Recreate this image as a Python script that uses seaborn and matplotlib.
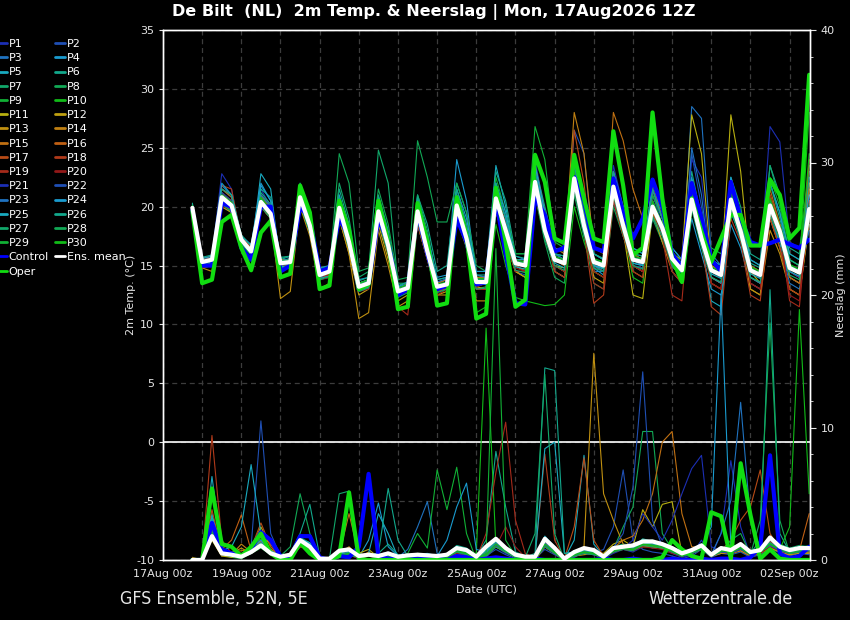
import numpy as np
import pandas as pd
import matplotlib
matplotlib.use("Agg")
import matplotlib.pyplot as plt
import matplotlib.dates as mdates
from matplotlib.lines import Line2D
from matplotlib.ticker import MultipleLocator, FixedLocator
import seaborn as sns

# ---------------- data ----------------
times = pd.date_range("2026-08-17 18:00", periods=64, freq="6h")

# ensemble mean, control and operational run: 2 m temperature (degC)
t_mean = [19.9, 15.3, 15.5, 20.8, 20.1, 17.2, 16.2, 20.4, 19.4, 15.2, 15.3, 20.8, 18.4, 14.2, 14.5, 19.9,
          17.0, 13.2, 13.5, 19.6, 16.7, 12.8, 13.1, 19.6, 16.2, 13.2, 13.4, 20.1, 17.3, 13.6, 13.6, 20.7,
          18.0, 15.2, 15.0, 22.1, 18.0, 15.5, 15.2, 22.4, 18.4, 15.3, 15.0, 21.7, 18.4, 15.5, 15.3, 20.0,
          18.2, 15.6, 14.6, 20.6, 17.3, 14.6, 14.2, 20.6, 17.9, 14.6, 14.2, 20.1, 17.9, 14.8, 14.4, 19.8]
t_control = [19.7, 15.0, 15.0, 20.3, 20.0, 16.5, 15.5, 20.0, 20.0, 14.5, 15.0, 20.0, 19.0, 14.5, 14.8, 19.0,
             17.5, 13.0, 13.5, 19.0, 17.0, 12.5, 13.0, 19.5, 16.0, 13.0, 13.3, 19.0, 17.0, 13.4, 13.6, 20.5,
             16.0, 11.8, 11.7, 20.7, 19.3, 16.2, 16.5, 22.5, 20.5, 16.5, 16.2, 22.4, 19.5, 17.3, 19.0, 22.3,
             20.0, 16.0, 14.8, 22.0, 19.0, 15.5, 14.5, 22.1, 19.0, 17.0, 16.7, 16.9, 17.2, 16.8, 16.5, 17.2]
t_oper = [19.6, 13.5, 13.8, 18.7, 19.3, 16.5, 14.6, 17.8, 18.8, 14.0, 14.3, 21.8, 19.5, 13.0, 13.3, 20.5,
          18.0, 13.0, 13.4, 20.5, 17.0, 11.3, 11.5, 20.3, 17.0, 11.6, 11.8, 20.8, 17.5, 10.5, 10.9, 21.6,
          17.0, 11.5, 12.1, 24.4, 22.1, 17.3, 16.9, 24.4, 20.7, 17.3, 17.0, 26.4, 21.8, 15.9, 16.5, 28.0,
          20.7, 15.6, 13.6, 20.7, 17.9, 15.3, 17.3, 19.3, 19.3, 16.7, 16.7, 22.3, 21.0, 17.3, 18.2, 31.2]

# ensemble members: 2 m temperature (degC)
t01 = [20.0, 15.6, 15.8, 22.8, 21.5, 17.0, 16.5, 21.5, 20.0, 15.5, 15.0, 21.5, 19.0, 14.0, 14.6, 21.0, 17.5, 13.0, 13.2, 20.5, 17.0, 12.5, 13.0, 20.0, 16.0, 13.5, 13.8, 21.0, 18.0, 14.0, 13.5, 22.0, 19.0, 15.5, 15.2, 24.0, 19.5, 16.0, 15.5, 23.0, 19.0, 15.0, 14.8, 23.5, 20.0, 16.0, 15.5, 21.0, 18.5, 15.0, 14.0, 21.5, 18.0, 14.0, 13.5, 22.0, 18.5, 15.5, 15.0, 26.8, 25.5, 17.0, 16.5, 21.0]
t02 = [19.8, 15.0, 15.2, 21.0, 20.5, 17.5, 16.8, 20.0, 19.0, 14.8, 15.0, 20.5, 18.0, 14.5, 14.8, 19.5, 17.2, 13.5, 13.8, 19.0, 16.5, 13.0, 13.5, 19.5, 16.5, 13.0, 13.2, 19.0, 17.0, 13.8, 14.0, 19.5, 17.5, 14.5, 14.2, 21.5, 18.5, 15.0, 14.8, 26.5, 24.5, 16.0, 15.5, 20.5, 18.0, 15.0, 14.8, 19.0, 17.5, 16.0, 15.0, 24.5, 20.0, 15.0, 14.5, 20.0, 17.0, 14.0, 13.5, 19.0, 17.0, 14.5, 14.0, 20.5]
t03 = [19.7, 15.5, 15.7, 21.5, 20.8, 16.8, 16.0, 21.0, 20.0, 15.0, 15.5, 21.0, 19.0, 14.0, 14.2, 20.5, 18.0, 13.0, 13.4, 20.0, 17.5, 12.5, 13.0, 18.5, 15.5, 12.8, 13.0, 19.5, 16.5, 13.2, 13.5, 21.0, 18.0, 15.0, 14.5, 22.5, 18.0, 15.0, 14.5, 21.5, 17.5, 14.5, 14.5, 20.5, 17.5, 15.0, 14.5, 19.5, 17.0, 15.5, 14.5, 28.5, 27.5, 16.0, 15.0, 21.0, 18.0, 14.5, 14.0, 19.0, 17.0, 13.5, 13.0, 18.5]
t04 = [20.2, 15.2, 15.4, 21.8, 21.0, 17.2, 16.4, 21.8, 20.5, 15.5, 15.8, 21.5, 19.5, 14.8, 15.0, 21.0, 18.0, 13.8, 14.0, 20.5, 17.0, 13.2, 13.6, 20.0, 17.0, 13.8, 14.0, 24.0, 20.5, 14.0, 13.8, 21.0, 18.0, 15.0, 14.5, 21.0, 17.5, 15.5, 15.0, 22.0, 18.0, 14.8, 14.2, 21.0, 18.0, 15.2, 15.0, 20.0, 18.0, 14.5, 13.5, 19.0, 16.0, 13.0, 12.5, 18.5, 16.5, 13.5, 13.0, 19.5, 17.0, 14.0, 13.5, 19.0]
t05 = [19.5, 15.0, 15.2, 20.5, 20.0, 17.0, 16.0, 22.8, 21.5, 15.0, 15.0, 20.0, 18.0, 13.8, 14.0, 20.0, 17.5, 12.8, 13.2, 19.5, 16.5, 12.8, 13.0, 20.5, 17.5, 13.0, 13.5, 21.0, 18.0, 14.5, 14.5, 23.5, 20.0, 15.5, 15.5, 23.0, 19.0, 14.5, 14.0, 22.0, 18.5, 15.0, 14.8, 22.5, 19.5, 15.5, 15.0, 21.5, 19.0, 15.0, 14.0, 20.0, 17.0, 12.0, 11.5, 19.5, 17.5, 14.0, 13.5, 22.0, 19.5, 15.0, 14.5, 20.0]
t06 = [19.6, 14.8, 15.0, 20.2, 19.8, 17.0, 16.3, 21.5, 20.8, 15.3, 15.0, 22.0, 19.5, 14.0, 14.5, 21.5, 18.5, 13.5, 13.8, 21.0, 18.0, 13.0, 13.2, 21.0, 18.5, 14.5, 15.0, 22.0, 19.5, 14.2, 14.0, 23.0, 20.5, 16.0, 16.0, 23.5, 20.0, 16.5, 16.2, 24.0, 20.5, 16.0, 15.5, 22.0, 19.0, 16.5, 16.0, 21.0, 19.0, 16.5, 15.5, 23.0, 19.0, 15.5, 15.0, 22.0, 19.0, 16.0, 15.5, 23.5, 21.0, 16.5, 16.0, 23.0]
t07 = [19.8, 15.0, 15.2, 20.0, 19.5, 16.8, 16.0, 20.8, 20.0, 15.5, 15.5, 21.5, 19.5, 14.5, 14.8, 22.0, 19.0, 14.0, 14.5, 24.8, 22.0, 13.5, 13.5, 21.0, 18.0, 13.5, 13.8, 20.0, 17.0, 13.0, 13.2, 21.5, 19.0, 15.0, 15.0, 22.0, 19.0, 16.0, 15.5, 23.0, 19.5, 15.5, 15.0, 22.5, 19.5, 16.0, 15.8, 20.5, 18.5, 16.0, 15.0, 21.0, 17.5, 14.5, 14.0, 22.5, 20.0, 15.0, 14.5, 23.5, 20.5, 15.5, 15.0, 22.0]
t08 = [20.0, 15.5, 15.5, 21.0, 20.2, 17.2, 16.5, 20.8, 19.8, 15.6, 15.8, 21.0, 19.0, 14.2, 14.5, 24.5, 22.0, 14.5, 14.8, 21.5, 18.5, 13.8, 14.0, 25.6, 22.5, 18.7, 18.7, 22.0, 19.5, 15.0, 14.5, 20.5, 17.5, 14.5, 14.0, 21.0, 17.0, 14.0, 13.5, 21.0, 17.5, 13.5, 13.0, 20.0, 17.5, 15.0, 14.5, 19.0, 17.0, 15.0, 14.0, 20.5, 18.0, 16.5, 16.0, 21.0, 18.5, 14.5, 14.0, 20.0, 18.5, 15.0, 14.5, 22.0]
t09 = [19.7, 14.8, 15.0, 20.5, 19.8, 17.0, 16.2, 20.5, 19.5, 15.0, 15.0, 20.5, 18.5, 14.0, 14.2, 20.0, 17.5, 13.0, 13.5, 20.5, 17.5, 12.5, 13.0, 20.0, 17.0, 13.0, 13.2, 21.0, 18.5, 14.0, 14.0, 22.5, 19.5, 16.0, 16.0, 26.8, 24.0, 17.0, 16.5, 22.0, 18.5, 16.0, 15.5, 21.5, 19.0, 16.0, 15.5, 21.0, 19.0, 16.0, 15.0, 22.0, 18.5, 15.0, 14.5, 21.5, 18.5, 15.5, 15.0, 22.5, 20.0, 16.0, 15.5, 23.5]
t10 = [19.5, 15.0, 15.2, 20.5, 19.5, 16.8, 16.0, 20.0, 19.0, 15.0, 15.0, 20.0, 18.0, 14.0, 14.5, 20.5, 18.0, 13.5, 13.5, 20.0, 17.0, 12.8, 13.0, 19.5, 16.5, 13.2, 13.5, 20.0, 17.5, 11.0, 11.5, 18.5, 15.0, 12.3, 12.0, 11.8, 11.6, 11.7, 12.5, 20.0, 17.0, 14.5, 14.0, 21.0, 18.0, 14.0, 13.5, 20.5, 18.0, 15.0, 14.0, 21.0, 18.0, 14.5, 14.0, 21.5, 18.0, 14.0, 13.5, 21.0, 18.5, 15.5, 15.0, 28.0]
t11 = [19.8, 15.3, 15.5, 21.0, 20.5, 17.0, 16.2, 20.0, 19.2, 15.0, 15.0, 20.5, 18.5, 14.2, 14.5, 19.5, 16.5, 13.0, 13.5, 19.0, 16.5, 12.8, 13.0, 19.0, 16.0, 13.0, 13.0, 19.5, 17.0, 13.5, 13.5, 20.5, 17.5, 15.0, 14.5, 22.0, 18.0, 15.0, 14.8, 23.0, 19.0, 15.0, 14.5, 21.0, 18.0, 12.5, 12.2, 19.5, 18.0, 16.0, 15.5, 27.8, 24.5, 15.0, 14.5, 27.8, 23.0, 14.5, 13.5, 19.0, 16.5, 13.0, 12.5, 18.5]
t12 = [20.0, 15.6, 15.8, 21.2, 20.5, 17.4, 16.5, 20.5, 19.5, 15.2, 15.5, 20.8, 18.5, 14.5, 14.8, 19.0, 16.0, 12.5, 13.0, 18.5, 15.5, 12.0, 12.5, 19.0, 16.0, 12.5, 12.8, 19.5, 17.0, 13.2, 13.0, 20.0, 17.0, 14.5, 14.0, 21.0, 17.5, 15.0, 14.5, 22.5, 19.0, 14.0, 13.5, 21.0, 18.0, 14.5, 14.0, 19.5, 17.0, 14.5, 13.5, 21.0, 18.0, 13.5, 13.0, 21.0, 18.0, 13.0, 12.5, 20.5, 18.5, 14.0, 13.5, 21.5]
t13 = [19.6, 14.8, 14.5, 20.0, 19.5, 16.5, 15.5, 20.0, 19.0, 12.2, 12.8, 20.0, 17.5, 13.0, 13.5, 19.0, 16.0, 10.5, 11.0, 18.0, 15.0, 11.5, 12.0, 18.5, 15.5, 12.5, 12.5, 19.0, 16.5, 12.0, 12.0, 19.5, 17.0, 14.5, 14.0, 21.5, 18.0, 14.5, 14.0, 22.0, 18.5, 14.5, 14.0, 21.5, 18.5, 15.0, 14.5, 20.5, 18.0, 15.0, 14.0, 20.0, 17.0, 14.0, 13.5, 21.0, 18.0, 13.0, 12.5, 18.0, 16.0, 13.0, 12.5, 19.0]
t14 = [19.8, 15.0, 15.2, 20.5, 20.0, 17.0, 16.0, 20.5, 19.5, 15.0, 15.2, 21.0, 18.5, 14.0, 14.2, 19.5, 16.5, 13.0, 13.5, 19.0, 16.0, 13.0, 13.2, 19.5, 16.0, 13.0, 13.5, 20.0, 17.5, 13.5, 13.5, 20.5, 18.0, 15.0, 15.0, 23.5, 19.5, 16.5, 16.0, 28.0, 24.5, 16.5, 16.0, 22.0, 19.0, 15.5, 15.0, 21.5, 19.0, 15.0, 14.0, 20.0, 17.5, 14.0, 13.5, 20.5, 18.0, 14.5, 14.0, 20.0, 18.0, 14.5, 14.0, 20.5]
t15 = [19.9, 15.5, 15.5, 21.5, 20.8, 17.5, 16.6, 21.0, 20.0, 15.5, 15.5, 21.5, 19.5, 14.5, 14.5, 20.5, 17.5, 13.5, 13.8, 20.0, 17.0, 13.0, 13.5, 20.5, 17.0, 13.5, 13.8, 20.5, 18.0, 14.0, 14.0, 21.0, 18.5, 15.5, 15.5, 22.5, 19.0, 15.5, 15.0, 23.0, 19.5, 15.5, 15.0, 28.0, 25.6, 21.5, 19.0, 22.0, 19.5, 16.0, 15.0, 21.0, 18.0, 15.0, 14.5, 21.0, 18.5, 15.0, 14.5, 21.0, 18.5, 15.0, 14.5, 22.0]
t16 = [19.7, 15.2, 15.4, 20.8, 20.0, 17.2, 16.3, 20.5, 19.5, 15.3, 15.5, 21.0, 18.5, 14.0, 14.5, 20.0, 17.0, 13.2, 13.5, 19.5, 16.5, 12.5, 13.0, 19.5, 16.0, 13.0, 13.5, 20.5, 17.5, 13.5, 13.5, 21.5, 18.5, 15.0, 15.0, 23.0, 19.0, 15.5, 15.0, 24.0, 20.0, 15.5, 15.0, 23.0, 19.5, 16.0, 15.5, 22.0, 19.0, 15.0, 14.0, 21.5, 18.0, 14.5, 14.0, 22.0, 19.0, 14.0, 13.5, 21.5, 18.5, 14.0, 13.5, 24.0]
t17 = [19.9, 15.4, 15.6, 21.5, 21.0, 17.3, 16.4, 20.8, 19.8, 15.2, 15.3, 20.5, 18.0, 14.0, 14.3, 19.0, 16.5, 13.0, 13.3, 19.0, 16.0, 12.8, 13.0, 19.0, 16.0, 12.8, 13.0, 20.0, 17.0, 13.5, 13.5, 20.5, 17.5, 15.0, 14.5, 22.0, 18.0, 15.5, 15.0, 26.5, 22.0, 15.0, 14.5, 21.0, 18.0, 15.0, 14.5, 19.5, 17.5, 15.5, 14.5, 20.5, 17.0, 14.0, 13.5, 20.0, 17.5, 14.5, 14.0, 19.5, 17.5, 14.5, 14.0, 19.5]
t18 = [20.0, 15.5, 15.6, 21.8, 21.5, 17.3, 16.6, 20.0, 19.0, 15.0, 15.2, 20.5, 18.5, 14.2, 14.5, 20.0, 17.0, 13.2, 13.5, 19.5, 16.5, 12.5, 12.8, 19.5, 16.5, 13.0, 13.0, 19.5, 17.0, 13.0, 13.0, 20.0, 17.5, 14.5, 14.5, 21.5, 18.0, 15.0, 14.5, 21.5, 18.0, 11.8, 12.5, 20.5, 17.5, 15.0, 14.5, 20.0, 18.0, 15.0, 14.5, 20.0, 17.0, 11.5, 10.8, 19.0, 17.0, 12.5, 12.0, 19.0, 16.5, 13.0, 12.5, 19.0]
t19 = [19.8, 15.0, 15.0, 20.5, 20.0, 17.0, 16.0, 20.0, 19.0, 15.0, 15.0, 20.5, 18.0, 14.0, 14.2, 19.5, 16.5, 13.0, 13.0, 19.0, 16.0, 11.5, 10.8, 18.5, 15.5, 12.5, 13.0, 19.5, 17.0, 13.0, 13.0, 20.0, 17.0, 14.5, 14.5, 21.5, 18.0, 14.5, 14.0, 22.0, 18.5, 13.5, 13.0, 21.0, 18.0, 14.5, 14.0, 20.5, 17.5, 12.5, 12.0, 21.5, 17.5, 13.5, 13.0, 21.5, 18.0, 13.5, 13.0, 21.0, 18.0, 12.0, 11.5, 20.5]
t20 = [19.6, 14.8, 15.0, 20.0, 19.8, 16.8, 16.0, 20.2, 19.4, 14.8, 14.8, 20.5, 18.0, 13.8, 14.0, 19.8, 16.8, 12.8, 13.0, 19.5, 16.5, 12.5, 12.8, 19.0, 16.0, 13.0, 13.2, 19.8, 17.0, 13.2, 13.5, 20.0, 17.5, 14.8, 14.5, 21.0, 17.5, 15.0, 14.5, 22.0, 18.0, 14.5, 14.0, 21.0, 18.0, 15.0, 14.5, 20.0, 17.5, 14.5, 13.5, 20.0, 17.0, 13.5, 13.0, 20.5, 17.5, 13.5, 13.0, 20.0, 17.5, 12.5, 12.0, 20.5]
t21 = [20.0, 15.4, 15.6, 21.2, 20.5, 17.1, 16.2, 20.6, 19.6, 15.2, 15.4, 21.0, 18.8, 14.3, 14.6, 20.5, 17.5, 13.3, 13.6, 20.0, 17.0, 13.0, 13.3, 20.0, 16.5, 13.3, 13.5, 20.5, 17.5, 13.8, 13.8, 21.0, 18.5, 15.3, 15.0, 22.5, 18.5, 15.5, 15.2, 23.0, 19.0, 15.3, 15.0, 22.0, 18.5, 15.5, 15.0, 20.5, 18.0, 15.5, 14.5, 24.0, 22.5, 14.5, 14.0, 21.0, 18.0, 14.5, 14.0, 20.5, 18.0, 14.5, 14.0, 20.0]
t22 = [19.9, 15.3, 15.5, 20.8, 20.2, 17.2, 16.3, 20.5, 19.5, 15.3, 15.4, 20.8, 18.5, 14.2, 14.5, 20.0, 17.0, 13.2, 13.5, 19.6, 16.8, 12.8, 13.1, 19.5, 16.2, 13.2, 13.4, 20.0, 17.2, 13.6, 13.6, 20.5, 18.0, 15.2, 15.0, 22.0, 18.0, 15.5, 15.2, 22.5, 18.5, 15.3, 15.0, 21.8, 18.5, 15.5, 15.3, 20.0, 18.2, 15.6, 14.6, 20.5, 17.3, 14.6, 14.2, 20.5, 18.0, 14.6, 14.2, 20.0, 18.0, 14.8, 14.4, 19.8]
t23 = [19.7, 15.1, 15.3, 20.5, 19.8, 17.0, 16.0, 21.0, 20.0, 15.0, 15.2, 20.5, 18.0, 14.0, 14.4, 19.5, 16.5, 13.0, 13.3, 19.0, 16.2, 12.6, 13.0, 19.8, 16.8, 13.6, 13.9, 21.0, 18.0, 14.2, 14.0, 21.5, 19.0, 15.8, 15.5, 23.0, 19.5, 16.0, 15.5, 23.5, 20.0, 15.0, 14.5, 22.5, 19.5, 15.5, 15.0, 21.5, 19.0, 15.0, 14.0, 25.0, 21.0, 14.0, 13.5, 21.0, 18.5, 14.0, 13.5, 20.5, 18.0, 15.0, 14.5, 18.0]
t24 = [20.1, 15.6, 15.8, 22.0, 21.0, 17.5, 16.7, 22.0, 20.5, 15.4, 15.6, 21.2, 19.2, 14.5, 14.8, 20.2, 17.5, 13.5, 13.8, 20.2, 17.2, 13.2, 13.4, 20.5, 17.5, 14.0, 14.2, 21.5, 19.0, 14.5, 14.5, 22.0, 19.5, 15.5, 15.5, 23.5, 19.5, 16.0, 15.8, 24.5, 20.5, 16.0, 15.5, 23.0, 20.0, 16.5, 16.0, 22.0, 19.5, 16.5, 15.5, 22.5, 19.0, 15.5, 15.0, 22.5, 19.5, 15.5, 15.0, 22.0, 19.5, 16.0, 15.5, 21.0]
t25 = [19.5, 14.9, 15.1, 20.4, 19.9, 16.9, 15.9, 20.3, 19.3, 14.9, 15.0, 20.4, 18.2, 13.9, 14.1, 19.6, 16.8, 12.9, 13.2, 19.2, 16.4, 12.6, 12.9, 19.4, 16.1, 13.1, 13.3, 19.8, 17.0, 13.4, 13.4, 20.3, 17.8, 14.9, 14.7, 21.5, 17.8, 15.2, 14.8, 22.0, 18.2, 15.0, 14.7, 21.5, 18.2, 15.2, 15.0, 19.8, 17.8, 15.3, 14.3, 20.3, 17.0, 14.3, 13.9, 20.2, 17.6, 14.3, 13.9, 19.7, 17.6, 14.5, 14.1, 19.5]
t26 = [20.3, 15.7, 15.9, 21.5, 21.0, 17.6, 16.7, 21.2, 20.2, 15.7, 15.8, 21.5, 19.2, 14.7, 15.0, 20.8, 18.0, 13.7, 14.0, 20.8, 17.8, 13.3, 13.6, 20.8, 17.5, 13.8, 14.0, 21.5, 18.5, 14.2, 14.2, 22.0, 19.0, 15.8, 15.6, 23.0, 19.0, 16.0, 15.8, 23.5, 19.5, 16.0, 15.6, 23.0, 19.5, 16.0, 15.8, 21.5, 19.0, 16.2, 15.2, 22.0, 18.5, 15.2, 14.8, 22.0, 19.0, 15.2, 14.8, 22.0, 19.0, 15.5, 15.0, 22.5]
t27 = [19.6, 15.0, 15.2, 20.2, 19.6, 16.9, 15.9, 20.0, 19.0, 14.8, 14.9, 20.2, 17.8, 13.8, 14.1, 19.2, 16.4, 12.8, 13.1, 18.8, 16.0, 12.3, 12.7, 18.8, 15.6, 12.7, 13.0, 19.2, 16.6, 13.0, 13.1, 19.8, 17.2, 14.6, 14.4, 21.2, 17.2, 15.0, 14.6, 21.5, 17.8, 14.8, 14.5, 21.0, 17.8, 15.0, 14.7, 19.2, 17.5, 15.0, 14.0, 19.8, 16.5, 14.0, 13.6, 19.8, 17.2, 14.0, 13.6, 19.3, 17.2, 14.2, 13.8, 19.0]
t28 = [19.9, 15.3, 15.5, 21.0, 20.3, 17.3, 16.3, 20.7, 19.6, 15.4, 15.5, 21.0, 18.6, 14.4, 14.7, 20.2, 17.3, 13.4, 13.7, 19.9, 17.0, 13.0, 13.3, 19.9, 16.5, 13.4, 13.6, 20.4, 17.6, 13.8, 13.8, 21.0, 18.3, 15.4, 15.2, 22.4, 18.3, 15.7, 15.4, 22.8, 18.7, 15.5, 15.2, 22.0, 18.7, 15.7, 15.5, 20.3, 18.5, 15.8, 14.8, 21.0, 17.6, 14.8, 14.4, 21.0, 18.2, 14.8, 14.4, 20.5, 18.2, 15.0, 14.6, 20.2]
t29 = [19.8, 15.2, 15.4, 20.6, 19.9, 17.1, 16.1, 20.2, 19.2, 15.1, 15.2, 20.6, 18.2, 14.1, 14.4, 19.7, 16.8, 13.1, 13.4, 19.4, 16.5, 12.7, 13.0, 19.4, 16.0, 13.1, 13.3, 19.9, 17.1, 13.5, 13.5, 20.5, 17.8, 15.1, 14.9, 21.8, 17.8, 15.4, 15.1, 22.2, 18.2, 15.2, 14.9, 21.5, 18.2, 15.4, 15.2, 19.8, 18.0, 15.5, 14.5, 20.4, 17.1, 14.5, 14.1, 20.4, 17.7, 14.5, 14.1, 19.9, 17.7, 14.7, 14.3, 19.6]
t30 = [20.1, 15.4, 15.6, 21.0, 20.4, 17.3, 16.4, 20.8, 19.7, 15.3, 15.4, 21.2, 18.8, 14.5, 14.8, 20.3, 17.3, 13.5, 13.8, 20.0, 17.0, 13.1, 13.4, 20.0, 16.6, 13.4, 13.6, 20.5, 17.6, 13.9, 13.9, 21.2, 18.3, 15.5, 15.3, 22.6, 18.3, 15.8, 15.5, 23.0, 18.8, 15.6, 15.3, 22.3, 18.8, 15.8, 15.6, 20.5, 18.5, 15.9, 14.9, 21.2, 17.6, 14.9, 14.5, 21.2, 18.3, 14.9, 14.5, 20.7, 18.3, 15.1, 14.7, 24.5]

# 6-hourly precipitation (mm): ensemble mean, control, operational
r_mean = [0.0, 0.0, 1.8, 0.5, 0.4, 0.25, 0.6, 1.1, 0.5, 0.25, 0.4, 1.5, 1.0, 0.1, 0.1, 0.7,
          0.8, 0.3, 0.4, 0.3, 0.5, 0.25, 0.35, 0.4, 0.35, 0.3, 0.4, 0.9, 0.75, 0.25, 1.0, 1.6,
          0.9, 0.4, 0.25, 0.25, 1.6, 0.9, 0.1, 0.6, 0.9, 0.75, 0.25, 0.9, 1.0, 1.1, 1.4, 1.4,
          1.2, 0.9, 0.5, 0.75, 1.1, 0.4, 0.9, 0.75, 1.2, 0.6, 0.75, 1.7, 1.0, 0.75, 0.9, 0.9]
r_control = [0.0, 0.0, 2.8, 0.8, 0.5, 0.3, 0.8, 2.1, 1.5, 0.3, 0.2, 1.8, 1.8, 0.2, 0.0, 0.3,
             0.2, 1.0, 6.5, 0.3, 0.1, 0.1, 0.0, 0.1, 0.2, 0.1, 0.0, 0.3, 0.2, 0.0, 0.1, 0.2,
             0.1, 0.0, 0.0, 0.1, 0.0, 0.0, 0.0, 0.0, 0.0, 0.0, 0.1, 0.0, 0.0, 0.1, 0.0, 0.0,
             0.0, 0.1, 0.0, 0.0, 0.1, 0.0, 0.1, 0.1, 0.0, 0.2, 1.0, 7.9, 0.5, 0.1, 0.3, 1.0]
r_oper = [0.0, 0.0, 5.4, 1.2, 1.0, 0.3, 1.0, 2.0, 0.5, 0.0, 0.0, 1.3, 0.5, 0.0, 0.0, 0.3,
          5.1, 0.1, 0.0, 0.0, 0.0, 0.0, 0.0, 0.0, 0.0, 0.0, 0.0, 0.0, 0.0, 0.0, 0.0, 0.0,
          0.0, 0.0, 0.0, 0.0, 0.0, 0.0, 0.0, 0.0, 0.0, 0.0, 0.0, 0.0, 0.0, 0.0, 0.0, 0.0,
          0.2, 1.5, 0.8, 0.3, 0.1, 3.6, 3.3, 0.1, 7.3, 3.4, 0.1, 0.8, 0.1, 0.0, 0.0, 0.0]

# 6-hourly precipitation (mm): ensemble members
r01 = [0, 0, 3.0, 0.5, 0.3, 0.2, 0.5, 1.5, 0.8, 0.2, 0.1, 1.2, 1.0, 0, 0, 0.3, 0.5, 0.2, 0.3, 0.1, 0.2, 0, 0.1, 0.3, 0.2, 0.1, 0.2, 0.5, 0.4, 0, 0.2, 1.0, 0.5, 0.2, 0.1, 0, 1.0, 0.5, 0, 0.3, 0.5, 0.4, 0.1, 0.5, 0.8, 0.6, 1.0, 1.2, 0.8, 0.5, 0.2, 0.4, 1.5, 0.3, 2.0, 7.5, 2.5, 0.3, 0.5, 1.0, 0.5, 0.4, 0.6, 0.5]
r02 = [0, 0, 2.0, 0.4, 0.3, 0.1, 1.0, 10.5, 2.0, 0.3, 0.2, 1.0, 0.8, 0, 0, 0.2, 0.4, 0.1, 0.5, 0.2, 0.3, 0.1, 0, 0.2, 0.4, 0.2, 0.1, 0.6, 0.5, 0.1, 0.3, 0.8, 0.4, 0.1, 0, 0.1, 0.8, 0.4, 0, 0.2, 0.6, 0.5, 0.8, 2.5, 6.8, 1.5, 0.8, 0.6, 0.5, 0.3, 0.1, 0.3, 0.8, 0.2, 0.5, 0.4, 0.6, 0.2, 0.4, 0.8, 0.6, 0.3, 0.5, 0.4]
r03 = [0, 0, 2.5, 0.6, 0.4, 0.2, 0.8, 1.2, 0.5, 0.1, 0.3, 1.5, 1.2, 0.1, 0, 0.4, 0.6, 0.3, 0.5, 0.4, 0.6, 0.2, 0.8, 2.5, 4.4, 0.5, 0.2, 0.4, 0.3, 0, 0.4, 1.2, 0.8, 0.3, 0.2, 0, 1.2, 0.6, 0, 0.4, 0.7, 0.5, 0.2, 0.6, 1.0, 0.8, 1.2, 0.9, 1.0, 0.6, 0.3, 0.5, 0.9, 0.3, 0.6, 0.5, 0.8, 0.4, 0.6, 1.2, 0.8, 0.5, 0.7, 0.8]
r04 = [0, 0, 3.5, 0.5, 0.4, 0.3, 0.6, 1.8, 0.6, 0.2, 0.4, 1.8, 1.0, 0.1, 0.1, 0.5, 0.8, 0.2, 1.5, 4.3, 1.0, 0.3, 0.2, 0.3, 0.3, 0.2, 0.3, 0.7, 0.6, 0.1, 0.5, 1.4, 0.6, 0.2, 0.1, 0.1, 1.5, 0.8, 0.1, 0.5, 0.8, 0.4, 0.2, 0.7, 0.9, 1.0, 1.5, 1.2, 1.0, 0.8, 0.4, 0.6, 1.0, 2.5, 20.1, 1.0, 1.2, 0.5, 0.7, 1.0, 0.9, 0.6, 0.8, 0.7]
r05 = [0, 0, 6.3, 0.8, 0.5, 0.3, 0.7, 1.4, 0.5, 0.3, 0.4, 1.6, 1.2, 0.1, 0.1, 0.8, 0.9, 0.3, 0.4, 0.2, 0.5, 0.2, 0.4, 0.4, 0.3, 0.3, 0.5, 1.0, 0.8, 0.2, 0.8, 1.5, 0.9, 0.4, 0.2, 0.2, 1.8, 1.0, 0.1, 1.5, 7.9, 1.2, 0.3, 0.8, 1.0, 1.2, 1.5, 1.3, 1.2, 1.0, 0.6, 0.8, 1.2, 0.4, 0.8, 0.8, 1.0, 0.6, 0.8, 1.5, 1.0, 0.7, 0.9, 1.0]
r06 = [0, 0, 2.2, 0.4, 0.3, 0.2, 0.6, 1.0, 0.4, 0.1, 0.2, 1.4, 1.1, 0, 0, 0.6, 0.7, 0.2, 0.3, 0.5, 1.2, 0.4, 0.3, 0.5, 0.4, 0.3, 0.4, 1.1, 0.9, 0.3, 1.5, 8.2, 4.0, 0.6, 0.3, 0.2, 1.5, 0.8, 0.1, 0.6, 0.9, 0.6, 0.3, 0.9, 1.1, 1.0, 1.6, 1.4, 1.3, 0.9, 0.5, 0.8, 1.1, 0.4, 0.9, 0.7, 1.3, 0.5, 0.7, 1.8, 1.1, 0.8, 1.0, 0.9]
r07 = [0, 0, 2.8, 0.7, 0.5, 0.4, 0.8, 1.3, 0.6, 0.2, 0.3, 1.7, 1.3, 0.1, 0.1, 5.0, 5.2, 0.5, 0.3, 0.2, 0.4, 0.1, 0.2, 0.3, 0.2, 0.2, 0.3, 0.9, 0.7, 0.2, 0.9, 1.7, 1.0, 0.4, 0.3, 0.3, 1.7, 0.9, 0.1, 0.7, 0.8, 0.7, 0.2, 1.0, 1.2, 1.1, 1.4, 1.5, 1.1, 0.8, 0.4, 0.7, 1.2, 0.5, 1.0, 0.8, 1.2, 0.6, 0.9, 1.6, 1.2, 0.9, 1.1, 1.0]
r08 = [0, 0, 2.4, 0.5, 0.6, 0.2, 0.7, 1.1, 0.5, 0.3, 1.0, 5.0, 2.0, 0.2, 0, 0.5, 0.6, 0.3, 0.5, 0.3, 0.5, 0.2, 0.3, 0.4, 0.3, 0.3, 0.4, 0.8, 0.7, 0.3, 0.9, 1.6, 0.8, 0.3, 0.3, 0.2, 1.6, 0.7, 0.1, 0.5, 0.9, 0.8, 0.3, 0.8, 2.5, 4.0, 9.7, 9.7, 2.0, 0.8, 0.5, 0.7, 1.0, 0.4, 0.8, 0.6, 1.0, 0.6, 0.8, 1.4, 0.9, 0.7, 0.9, 1.1]
r09 = [0, 0, 2.0, 0.4, 0.2, 0.1, 0.5, 0.9, 0.4, 0.1, 0.2, 1.3, 0.9, 0, 0, 0.4, 0.5, 0.2, 0.3, 0.2, 0.4, 0.1, 0.5, 2.0, 0.9, 6.8, 3.8, 7.0, 2.0, 0, 0.6, 1.3, 0.7, 0.3, 0.2, 0.1, 1.4, 0.8, 0.1, 0.5, 0.7, 0.6, 0.2, 0.8, 0.9, 0.9, 1.3, 1.2, 1.1, 0.7, 0.4, 0.6, 1.0, 0.3, 0.7, 0.6, 1.1, 0.5, 0.7, 1.5, 0.9, 0.6, 0.8, 0.9]
r10 = [0, 0, 3.2, 0.6, 0.4, 0.3, 0.7, 1.6, 0.7, 0.2, 0.3, 1.5, 1.0, 0.1, 0, 0.5, 0.6, 0.3, 0.4, 0.3, 0.5, 0.2, 0.3, 0.4, 0.3, 0.2, 0.3, 0.8, 0.6, 0.5, 17.5, 1.0, 0.6, 0.2, 0.1, 0.1, 1.3, 0.6, 0, 0.4, 0.6, 0.5, 0.2, 0.7, 0.8, 1.0, 1.2, 1.1, 1.0, 0.7, 0.3, 0.6, 0.9, 0.3, 0.7, 0.6, 1.0, 0.4, 0.6, 1.3, 0.8, 0.6, 0.8, 0.8]
r11 = [0, 0, 1.5, 0.3, 0.2, 0.4, 0.9, 2.5, 1.0, 0.3, 0.2, 1.2, 0.8, 0, 0, 0.3, 0.5, 0.5, 0.8, 0.2, 0.4, 0.1, 0.2, 0.3, 0.4, 0.2, 0.3, 0.6, 0.5, 0.1, 0.4, 1.2, 0.8, 0.5, 0.3, 0.1, 1.2, 0.6, 0, 0.3, 0.5, 0.6, 0.5, 1.2, 1.5, 1.0, 3.8, 2.5, 4.2, 4.4, 0.5, 0.5, 0.9, 0.3, 0.6, 0.5, 0.8, 0.5, 0.6, 1.1, 0.8, 0.5, 0.6, 0.6]
r12 = [0, 0, 1.8, 0.4, 0.3, 0.5, 0.6, 1.8, 1.2, 0.3, 0.2, 1.0, 0.9, 0, 0, 0.2, 0.4, 0.3, 0.5, 0.1, 0.3, 0.1, 0.1, 0.2, 0.3, 0.2, 0.2, 0.5, 0.4, 0.1, 0.3, 1.0, 0.6, 0.3, 0.2, 0, 1.0, 0.5, 0, 0.3, 0.4, 0.5, 0.3, 0.6, 0.9, 0.8, 1.0, 1.0, 0.9, 0.6, 0.3, 0.5, 0.8, 0.3, 0.5, 0.5, 0.7, 0.3, 0.5, 0.9, 0.6, 0.4, 0.5, 0.5]
r13 = [0.2, 0, 1.6, 0.3, 0.5, 0.9, 0.5, 1.2, 0.8, 0.4, 0.3, 1.0, 0.8, 0.1, 0, 0.3, 0.8, 0.2, 0.6, 0.2, 0.3, 0.1, 0.1, 0.2, 0.3, 0.1, 0.2, 0.6, 0.4, 0.1, 0.3, 1.1, 0.6, 0.2, 0.2, 0.1, 1.0, 0.5, 0, 0.4, 1.0, 15.6, 5.0, 3.0, 1.2, 0.8, 1.1, 1.0, 0.9, 0.6, 0.3, 0.5, 0.8, 0.3, 0.5, 0.5, 0.7, 0.3, 0.5, 1.0, 0.6, 0.4, 0.6, 0.6]
r14 = [0.1, 0, 2.0, 0.5, 0.4, 1.2, 0.6, 1.0, 0.6, 0.2, 0.5, 1.4, 1.1, 0, 0, 0.5, 1.0, 0.3, 0.4, 0.3, 0.4, 0.2, 0.2, 0.3, 0.2, 0.2, 0.3, 0.8, 0.5, 0.1, 0.6, 1.4, 0.9, 0.4, 0.2, 0.1, 1.4, 0.7, 0.1, 0.6, 0.8, 0.7, 0.3, 0.7, 1.0, 0.9, 1.3, 1.2, 1.1, 0.8, 0.4, 0.7, 1.0, 0.4, 0.8, 0.7, 1.1, 0.5, 0.8, 1.4, 0.9, 0.6, 0.8, 0.9]
r15 = [0, 0, 2.2, 0.4, 0.6, 0.7, 0.8, 1.4, 0.7, 0.3, 0.3, 1.3, 1.0, 0.1, 0, 0.4, 3.5, 0.4, 0.5, 0.2, 0.4, 0.1, 0.2, 0.3, 0.3, 0.2, 0.3, 0.7, 0.6, 0.1, 0.5, 1.3, 0.8, 0.3, 0.2, 0.1, 1.3, 0.6, 0, 0.5, 0.7, 0.6, 0.2, 0.9, 1.5, 1.8, 3.0, 5.0, 8.9, 9.7, 3.5, 1.0, 0.9, 0.3, 0.7, 0.6, 1.0, 0.4, 0.7, 1.2, 0.8, 0.5, 0.7, 0.8]
r16 = [0, 0, 2.6, 0.8, 1.5, 3.4, 0.7, 1.0, 0.5, 0.2, 0.2, 1.1, 0.9, 0, 0, 0.3, 0.6, 0.2, 0.4, 0.2, 0.3, 0.1, 0.2, 0.2, 0.2, 0.1, 0.2, 0.6, 0.5, 0.1, 0.4, 1.2, 0.7, 0.2, 0.2, 0.1, 1.2, 0.6, 0, 0.4, 0.6, 0.5, 0.2, 0.7, 0.9, 0.8, 1.2, 1.1, 1.0, 0.6, 0.3, 0.6, 0.9, 0.3, 0.6, 0.6, 0.9, 0.4, 0.6, 1.2, 0.7, 0.5, 0.7, 3.5]
r17 = [0, 0, 3.8, 0.6, 0.4, 0.3, 0.9, 2.8, 1.0, 0.3, 0.2, 1.2, 1.0, 0.1, 0, 0.4, 0.5, 0.2, 0.3, 0.2, 0.4, 0.1, 0.2, 0.3, 0.3, 0.2, 0.3, 0.7, 0.5, 0.1, 0.4, 1.4, 0.8, 0.3, 0.2, 0.1, 1.3, 0.7, 0.1, 2.5, 7.7, 1.5, 0.3, 0.7, 0.9, 0.8, 1.2, 1.1, 1.0, 0.7, 0.3, 0.6, 0.9, 0.3, 0.7, 1.5, 3.0, 4.0, 6.8, 2.0, 0.8, 0.5, 0.7, 0.8]
r18 = [0, 0, 9.4, 1.5, 0.5, 0.3, 0.7, 1.3, 0.6, 0.2, 0.3, 1.4, 1.1, 0.1, 0, 0.4, 0.6, 0.3, 0.4, 0.2, 0.4, 0.1, 0.2, 0.3, 0.3, 0.2, 0.3, 0.8, 0.6, 0.1, 0.5, 1.5, 0.9, 0.4, 0.2, 0.2, 8.0, 1.5, 0.1, 0.5, 0.7, 0.6, 0.2, 0.8, 1.0, 0.9, 1.3, 1.2, 1.1, 0.8, 0.4, 0.7, 1.0, 0.4, 0.8, 0.7, 1.0, 0.5, 0.8, 1.4, 0.9, 0.6, 0.8, 0.9]
r19 = [0, 0, 2.4, 0.5, 0.3, 0.2, 0.6, 1.2, 0.5, 0.2, 0.2, 1.2, 0.9, 0, 0, 0.3, 0.5, 0.2, 0.3, 0.2, 0.3, 0.1, 0.2, 0.2, 0.3, 0.2, 0.2, 0.6, 0.5, 0.1, 2.0, 6.6, 10.4, 3.0, 0.5, 0.1, 1.2, 0.6, 0, 0.4, 0.6, 0.5, 0.2, 0.7, 0.9, 0.8, 1.2, 1.1, 1.0, 0.6, 0.3, 0.6, 0.9, 0.3, 0.7, 0.6, 0.9, 0.4, 0.6, 1.2, 0.8, 0.5, 0.7, 0.8]
r20 = [0, 0, 2.0, 0.4, 0.3, 0.2, 0.5, 1.0, 0.4, 0.1, 0.2, 1.0, 0.8, 0, 0, 0.2, 0.4, 0.1, 0.3, 0.1, 0.3, 0.1, 0.1, 0.2, 0.2, 0.1, 0.2, 0.5, 0.4, 0.1, 0.3, 1.0, 2.5, 1.0, 0.2, 0.1, 1.0, 0.5, 0, 0.3, 0.5, 0.4, 0.2, 0.6, 0.8, 0.7, 1.0, 0.9, 0.8, 0.5, 0.3, 0.5, 0.8, 0.3, 0.6, 0.5, 0.8, 0.4, 0.5, 1.0, 0.7, 0.5, 0.6, 0.7]
r21 = [0, 0, 2.6, 0.5, 0.4, 0.2, 0.6, 1.2, 0.5, 0.2, 0.3, 1.3, 1.0, 0.1, 0, 0.3, 0.5, 0.2, 0.4, 0.2, 0.4, 0.1, 0.2, 0.3, 0.3, 0.2, 0.3, 0.7, 0.5, 0.1, 0.4, 1.2, 0.7, 0.3, 0.2, 0.1, 1.2, 0.6, 0, 0.4, 0.6, 0.5, 0.2, 0.7, 0.9, 1.5, 3.5, 2.5, 1.5, 3.0, 5.0, 6.9, 7.9, 1.0, 0.7, 0.6, 0.9, 0.4, 0.6, 1.2, 0.8, 0.5, 0.7, 0.8]
r22 = [0, 0, 2.3, 0.4, 0.3, 0.2, 0.5, 1.1, 0.5, 0.2, 0.2, 1.2, 0.9, 0, 0, 0.3, 0.4, 0.2, 0.3, 0.2, 0.3, 0.1, 0.2, 0.2, 0.3, 0.1, 0.2, 0.6, 0.4, 0.1, 0.3, 1.1, 0.6, 0.2, 0.2, 0.1, 1.1, 0.5, 0, 0.3, 0.5, 0.4, 0.3, 0.9, 2.0, 5.5, 14.2, 3.0, 1.0, 0.6, 0.3, 0.5, 0.8, 0.3, 0.6, 0.5, 0.8, 0.4, 0.6, 1.1, 0.7, 0.5, 0.6, 0.7]
r23 = [0, 0, 2.7, 0.6, 0.4, 0.3, 0.7, 1.3, 0.6, 0.2, 0.3, 1.4, 1.1, 0.1, 0, 0.4, 0.6, 0.2, 0.4, 0.2, 0.4, 0.1, 0.2, 0.3, 0.3, 0.2, 0.3, 0.8, 0.6, 0.1, 0.5, 1.3, 0.8, 0.3, 0.2, 0.1, 1.3, 0.7, 0.1, 0.5, 0.7, 0.6, 0.2, 0.8, 1.0, 0.9, 1.3, 1.2, 1.1, 0.8, 0.4, 0.7, 1.0, 0.4, 2.0, 4.5, 11.9, 3.0, 0.7, 1.3, 0.9, 0.6, 0.8, 0.9]
r24 = [0, 0, 3.0, 0.6, 0.5, 0.3, 0.8, 1.5, 0.6, 0.3, 0.3, 1.5, 1.2, 0.1, 0.1, 0.5, 0.7, 0.3, 0.4, 0.3, 0.5, 0.2, 0.3, 0.4, 0.5, 0.3, 1.5, 4.0, 5.8, 0.8, 0.6, 1.4, 0.9, 0.4, 0.3, 0.2, 1.5, 0.8, 0.1, 0.6, 0.8, 0.7, 0.3, 0.9, 1.1, 1.0, 1.4, 1.3, 1.2, 0.9, 0.5, 0.8, 1.1, 0.4, 0.9, 0.8, 1.1, 0.6, 0.8, 1.5, 1.0, 0.7, 0.9, 1.0]
r25 = [0, 0, 3.3, 0.7, 1.0, 2.5, 7.2, 2.0, 0.7, 0.3, 0.4, 1.6, 1.3, 0.1, 0.1, 0.6, 0.8, 0.3, 0.5, 3.5, 2.0, 0.2, 0.4, 0.4, 0.3, 0.3, 0.4, 0.9, 0.7, 0.2, 0.7, 1.5, 1.0, 0.4, 0.3, 0.2, 8.4, 8.9, 0.5, 0.6, 0.9, 0.7, 0.3, 0.9, 1.1, 1.1, 1.5, 1.4, 1.2, 0.9, 0.5, 0.8, 1.2, 0.5, 0.9, 0.8, 1.2, 0.6, 0.9, 1.6, 1.1, 0.8, 1.0, 1.0]
r26 = [0, 0, 2.9, 0.6, 0.4, 0.3, 0.7, 1.3, 0.6, 0.2, 0.5, 2.0, 4.2, 0.3, 0, 0.4, 0.6, 0.2, 0.4, 0.5, 5.4, 1.5, 0.3, 0.3, 0.3, 0.2, 0.3, 0.8, 0.6, 0.1, 0.6, 1.4, 0.8, 0.3, 0.2, 0.5, 14.5, 14.3, 0.5, 0.5, 0.7, 0.6, 0.2, 0.8, 1.0, 0.9, 1.3, 1.2, 1.1, 0.8, 0.4, 0.7, 1.0, 0.4, 0.8, 0.7, 1.1, 0.5, 1.5, 20.4, 2.0, 0.6, 0.8, 0.9]
r27 = [0, 0, 2.5, 0.5, 0.3, 0.2, 0.6, 1.1, 0.5, 0.2, 0.2, 1.3, 1.0, 0, 0, 0.3, 0.5, 0.2, 0.3, 0.2, 0.3, 0.1, 0.2, 0.3, 0.3, 0.2, 0.2, 0.7, 0.5, 0.1, 0.4, 1.2, 0.7, 0.3, 0.2, 2.0, 14.0, 2.0, 0, 0.4, 0.6, 0.5, 0.2, 0.7, 0.9, 0.8, 1.2, 1.1, 1.0, 0.7, 0.3, 0.6, 0.9, 0.3, 0.7, 0.6, 1.0, 0.4, 0.7, 1.3, 0.8, 0.5, 0.7, 0.8]
r28 = [0, 0, 2.1, 0.4, 0.3, 0.2, 0.5, 1.0, 0.4, 0.1, 0.2, 1.1, 0.9, 0, 0, 0.3, 0.4, 0.2, 0.3, 0.2, 0.3, 0.1, 0.2, 0.2, 0.2, 0.1, 0.2, 0.6, 0.4, 0.1, 0.3, 1.0, 0.6, 0.2, 0.2, 0.1, 1.0, 0.5, 0, 0.3, 0.5, 0.4, 0.2, 0.6, 0.8, 0.7, 1.1, 1.0, 0.9, 0.6, 0.3, 0.5, 0.8, 0.3, 0.6, 1.5, 2.0, 0.4, 3.0, 17.9, 3.0, 0.5, 0.6, 0.7]
r29 = [0, 0, 2.4, 0.5, 0.3, 0.2, 0.6, 1.1, 0.5, 0.2, 0.2, 1.2, 1.0, 0, 0, 0.3, 0.5, 0.2, 0.3, 0.2, 0.3, 0.1, 0.2, 0.3, 0.3, 0.2, 0.2, 0.7, 0.5, 0.1, 0.5, 23.5, 1.5, 0.3, 0.2, 0.1, 1.2, 0.6, 0, 0.4, 0.6, 0.5, 0.2, 0.7, 0.9, 0.8, 1.2, 1.1, 1.0, 0.7, 0.3, 0.6, 0.9, 0.3, 0.7, 0.6, 0.9, 0.4, 0.6, 1.2, 0.8, 0.5, 0.7, 0.8]
r30 = [0, 0, 2.6, 0.5, 0.4, 0.3, 0.6, 1.2, 0.5, 0.2, 0.3, 1.3, 1.0, 0.1, 0, 0.3, 0.5, 0.2, 0.4, 0.2, 0.4, 0.1, 0.2, 0.3, 0.3, 0.2, 0.3, 0.7, 0.5, 0.1, 0.4, 1.2, 0.7, 0.3, 0.2, 0.1, 1.2, 0.6, 0, 0.4, 0.6, 0.5, 0.2, 0.7, 0.9, 0.8, 1.2, 1.1, 1.0, 0.7, 0.3, 0.6, 0.9, 0.3, 0.7, 0.6, 0.9, 0.4, 0.6, 1.2, 0.8, 2.5, 18.9, 5.0]

member_names = ["P%d" % k for k in range(1, 31)]
temp_members = [t01, t02, t03, t04, t05, t06, t07, t08, t09, t10, t11, t12, t13, t14, t15,
                t16, t17, t18, t19, t20, t21, t22, t23, t24, t25, t26, t27, t28, t29, t30]
rain_members = [r01, r02, r03, r04, r05, r06, r07, r08, r09, r10, r11, r12, r13, r14, r15,
                r16, r17, r18, r19, r20, r21, r22, r23, r24, r25, r26, r27, r28, r29, r30]

base_colors = ["#1c2fb4", "#1f4fb4", "#1f72bf", "#1a9bcf", "#19aabf", "#12a88c", "#11a86a",
               "#11a855", "#11b035", "#11bb18", "#b8b010", "#bfa010", "#c09010", "#c08012",
               "#c07012", "#c06014", "#b84b16", "#b03a1a", "#a42a1a", "#921818"]
member_colors = base_colors + base_colors[:10]

x_ticks = ["2026-08-17", "2026-08-19", "2026-08-21", "2026-08-23", "2026-08-25",
           "2026-08-27", "2026-08-29", "2026-08-31", "2026-09-02"]

for lst in temp_members + rain_members + [t_mean, t_control, t_oper, r_mean, r_control, r_oper]:
    assert len(lst) == 64, len(lst)

# ---------------- style ----------------
sns.set_style("dark")
plt.rcParams["font.family"] = ["DejaVu Sans"]
plt.rcParams["axes.unicode_minus"] = False

FG = "#e6e6e6"
fig = plt.figure(figsize=(8.5, 6.2), dpi=100, facecolor="black")
ax = fig.add_axes([163 / 850, 60 / 620, 647 / 850, 530 / 620])
ax.set_facecolor("black")
ax2 = ax.twinx()

# temperature
for vals, col in zip(temp_members, member_colors):
    sns.lineplot(x=times, y=vals, ax=ax, color=col, lw=0.8, legend=False, estimator=None)
sns.lineplot(x=times, y=t_control, ax=ax, color="#0000ff", lw=3.0, legend=False, estimator=None)
sns.lineplot(x=times, y=t_oper, ax=ax, color="#11dd11", lw=3.0, legend=False, estimator=None)
sns.lineplot(x=times, y=t_mean, ax=ax, color="white", lw=3.0, legend=False, estimator=None)

# precipitation
for vals, col in zip(rain_members, member_colors):
    sns.lineplot(x=times, y=vals, ax=ax2, color=col, lw=0.8, legend=False, estimator=None)
sns.lineplot(x=times, y=r_control, ax=ax2, color="#0000ff", lw=3.0, legend=False, estimator=None)
sns.lineplot(x=times, y=r_oper, ax=ax2, color="#11dd11", lw=3.0, legend=False, estimator=None)
sns.lineplot(x=times, y=r_mean, ax=ax2, color="white", lw=3.0, legend=False, estimator=None)

ax.axhline(0, color="white", lw=1.2, zorder=1)

# axes limits / ticks
ax.set_xlim(pd.Timestamp("2026-08-17 00:00"), pd.Timestamp("2026-09-02 12:30"))
ax.set_ylim(-10, 35)
ax.set_yticks(range(-10, 36, 5))
ax2.set_ylim(0, 40)
ax2.set_yticks(range(0, 41, 10))
ax2.yaxis.set_minor_locator(MultipleLocator(2))

ax.xaxis.set_major_locator(FixedLocator(mdates.date2num(pd.to_datetime(x_ticks))))
ax.xaxis.set_major_formatter(mdates.DateFormatter("%d%b %Hz"))
ax.xaxis.set_minor_locator(mdates.DayLocator())

ax.grid(False)
ax2.grid(False)
ax.grid(axis="y", which="major", color="#3c3c3c", ls=(0, (4, 3)), lw=0.9)
ax.grid(axis="x", which="both", color="#3c3c3c", ls=(0, (4, 3)), lw=0.9)

for a in (ax, ax2):
    for s in a.spines.values():
        s.set_color("white")
        s.set_linewidth(1.0)
        s.set_visible(True)
    a.tick_params(colors=FG, labelsize=8, length=3, width=0.8)
ax.tick_params(axis="x", which="minor", length=0)
ax2.tick_params(axis="y", which="minor", length=2, width=0.6, colors=FG)
ax2.tick_params(axis="y", which="major", length=4)

ax.set_xlabel("Date (UTC)", color=FG, fontsize=8, labelpad=4)
ax.set_ylabel("2m Temp. (°C)", color=FG, fontsize=8, labelpad=0)
ax2.set_ylabel("Neerslag (mm)", color=FG, fontsize=8, labelpad=1)

# title and footer
fig.text(434 / 850, 1 - 12 / 620, "De Bilt  (NL)  2m Temp. & Neerslag | Mon, 17Aug2026 12Z",
         ha="center", va="center", color="white", fontsize=11.5, fontweight="bold")
fig.text(120 / 850, 1 - 599 / 620, "GFS Ensemble, 52N, 5E", ha="left", va="center",
         color=FG, fontsize=12.8, fontstretch="condensed")
fig.text(793 / 850, 1 - 599 / 620, "Wetterzentrale.de", ha="right", va="center",
         color=FG, fontsize=12.8, fontstretch="condensed")

# legend (row-wise: P1 P2 / P3 P4 ...)
col1 = [(member_names[k], member_colors[k]) for k in range(0, 30, 2)] + [("Control", "#0000ff"), ("Oper", "#11dd11")]
col2 = [(member_names[k], member_colors[k]) for k in range(1, 30, 2)] + [("Ens. mean", "white")]
entries = col1 + col2
handles = [Line2D([0], [0], color=c, lw=2) for _, c in entries]
labels = [n for n, _ in entries]
leg = fig.legend(handles, labels, loc="upper left", bbox_to_anchor=(-0.003, 1 - 39 / 620), ncol=2,
                 frameon=False, fontsize=8, handlelength=0.9, handletextpad=0.1,
                 columnspacing=0.6, labelspacing=0.38, borderaxespad=0, borderpad=0)
for t in leg.get_texts():
    t.set_color("white")

fig.savefig("out.png", dpi=100, facecolor="black")
